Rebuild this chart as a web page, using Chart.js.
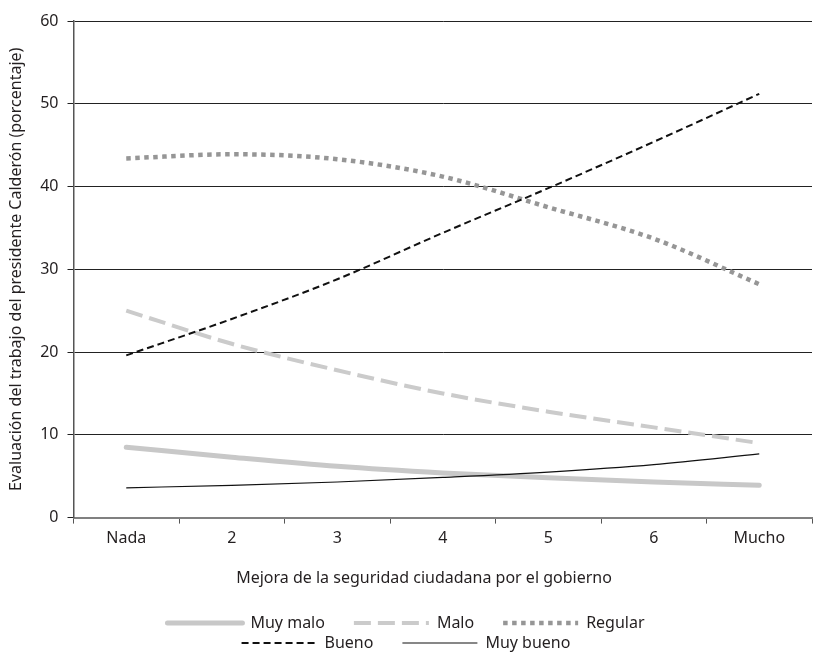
<!DOCTYPE html>
<html lang="es">
<head>
<meta charset="utf-8">
<title>Evaluación del trabajo del presidente Calderón</title>
<script src="https://cdn.jsdelivr.net/npm/chart.js@4.4.1/dist/chart.umd.min.js"></script>
<style>
  html, body { margin: 0; padding: 0; background: #fff; }
  #wrap { width: 814px; height: 661px; }
</style>
</head>
<body>
<div id="wrap"><canvas id="calderonChart"></canvas></div>
<script>
// valores (porcentaje)
const categories = ['Nada', '2', '3', '4', '5', '6', 'Mucho'];
const seriesNames = ['Muy malo', 'Malo', 'Regular', 'Bueno', 'Muy bueno'];
const muyMalo = [8.5, 7.3, 6.2, 5.4, 4.8, 4.3, 3.9];
const malo = [25.0, 21.0, 17.8, 15.0, 12.8, 10.9, 9.0];
const regular = [43.4, 43.9, 43.3, 41.2, 37.5, 33.7, 28.2];
const bueno = [19.6, 24.0, 28.8, 34.4, 39.8, 45.4, 51.2];
const muyBueno = [3.6, 3.9, 4.3, 4.85, 5.5, 6.4, 7.7];
const yTicks = [0, 10, 20, 30, 40, 50, 60];

const TEXT = '#231f20';
const LEGEND_ROW_WIDTH = 560;   // fuerza la leyenda en dos filas (3 + 2)
const ROW_ENDS = [2, 4];

Chart.defaults.font.family = '"Noto Sans", "Open Sans", sans-serif';
Chart.defaults.font.size = 16;
Chart.defaults.color = TEXT;

// la leyenda reparte y dibuja sus filas en un ancho menor que el del gráfico
const legendRows = {
    id: 'legendRows',
    beforeLayout(chart) {
        const legend = chart.legend;
        if (!legend || legend._rowsPatched) return;
        const update = legend.update.bind(legend);
        const draw = legend.draw.bind(legend);
        legend.update = (maxWidth, maxHeight, margins) =>
            update(Math.min(maxWidth, LEGEND_ROW_WIDTH), maxHeight, margins);
        legend.draw = (...args) => {
            const { left, right } = legend;
            const mid = (left + right) / 2;
            legend.left = mid - LEGEND_ROW_WIDTH / 2;
            legend.right = mid + LEGEND_ROW_WIDTH / 2;
            draw(...args);
            legend.left = left;
            legend.right = right;
        };
        legend._rowsPatched = true;
    }
};

const common = {
    pointRadius: 0,
    pointHoverRadius: 0,
    fill: false,
    cubicInterpolationMode: 'monotone'
};

const ctx = document.getElementById('calderonChart').getContext('2d');
const chart = new Chart(ctx, {
    type: 'line',
    data: {
        labels: categories,
        datasets: [
            { ...common, label: seriesNames[0], data: muyMalo, borderColor: '#c8c8c8', borderWidth: 5, borderCapStyle: 'round', order: 5 },
            { ...common, label: seriesNames[1], data: malo, borderColor: '#cbcbcb', borderWidth: 4, borderDash: [17, 7], order: 4 },
            { ...common, label: seriesNames[2], data: regular, borderColor: '#969696', borderWidth: 4.5, borderDash: [4.5, 4.5], order: 3 },
            { ...common, label: seriesNames[3], data: bueno, borderColor: '#111111', borderWidth: 2, borderDash: [7, 4], order: 2 },
            { ...common, label: seriesNames[4], data: muyBueno, borderColor: '#111111', borderWidth: 1.2, order: 1 }
        ]
    },
    options: {
        responsive: true,
        maintainAspectRatio: false,
        animation: false,
        layout: { padding: { top: 21, right: 2, left: 0, bottom: 0 } },
        plugins: {
            tooltip: { enabled: false },
            legend: {
                position: 'bottom',
                labels: {
                    usePointStyle: true,
                    pointStyle: 'line',
                    pointStyleWidth: 75,
                    padding: 4,
                    color: TEXT,
                    font: { size: 16 },
                    generateLabels(chart) {
                        return chart.data.datasets.map((ds, i) => ({
                            text: ds.label + (ROW_ENDS.includes(i) ? '' : '      '),
                            datasetIndex: i,
                            hidden: false,
                            fillStyle: ds.borderColor,
                            strokeStyle: ds.borderColor,
                            lineWidth: ds.borderWidth,
                            lineDash: ds.borderDash || [],
                            lineCap: ds.borderCapStyle || 'butt',
                            pointStyle: 'line',
                            fontColor: TEXT
                        }));
                    }
                }
            }
        },
        scales: {
            x: {
                offset: true,
                grid: { offset: true, drawOnChartArea: false, drawTicks: true, tickLength: 6, color: '#555' },
                border: { color: '#808080', width: 2 },
                ticks: { padding: 5, color: TEXT },
                title: {
                    display: true,
                    // espacios finales: el título va algo a la izquierda del centro del área
                    text: 'Mejora de la seguridad ciudadana por el gobierno         ',
                    color: TEXT,
                    padding: { top: 16, bottom: 23 }
                }
            },
            y: {
                min: yTicks[0],
                max: yTicks[yTicks.length - 1],
                ticks: { stepSize: yTicks[1] - yTicks[0], padding: 9, color: TEXT },
                grid: { color: '#222', lineWidth: 1, tickLength: 6 },
                border: { color: '#555', width: 1.5 },
                title: {
                    display: true,
                    text: 'Evaluación del trabajo del presidente Calderón (porcentaje)',
                    color: TEXT,
                    padding: { top: 7, bottom: 5 }
                }
            }
        }
    },
    plugins: [legendRows]
});
</script>
</body>
</html>
